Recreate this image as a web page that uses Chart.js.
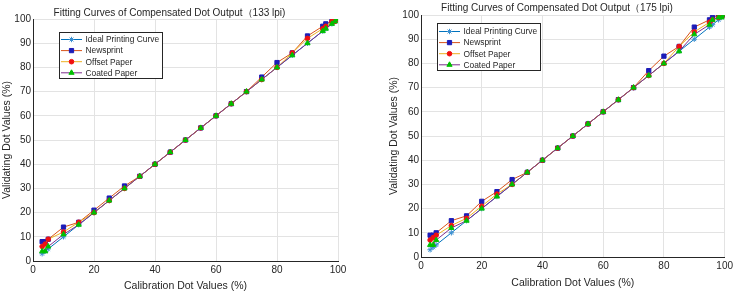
<!DOCTYPE html>
<html>
<head>
<meta charset="utf-8">
<script src="https://cdn.jsdelivr.net/npm/chart.js"></script>
<style>
  body { margin: 0; background: #fff; }
  .box { position: absolute; top: 0; width: 368px; height: 295px; }
</style>
</head>
<body>
<div class="box" style="left:0"><canvas id="c133" width="368" height="295"></canvas></div>
<div class="box" style="left:368px"><canvas id="c175" width="368" height="295"></canvas></div>
<script>
// calibration dot values (x) shared by every curve
const calib = [3, 4, 5, 10, 15, 20, 25, 30, 35, 40, 45, 50, 55, 60, 65, 70, 75, 80, 85, 90, 95, 96, 98, 99, 100];
const seriesNames = ['Ideal Printing Curve', 'Newsprint', 'Offset Paper', 'Coated Paper'];

// 133 lpi
const ideal133  = [3, 4, 5, 10, 15, 20, 25, 30, 35, 40, 45, 50, 55, 60, 65, 70, 75, 80, 85, 90, 95, 96, 98, 99, 100];
const news133   = [8, 8, 9, 14, 16, 21, 26, 31, 35, 40, 45, 50, 55, 60, 65, 70, 76, 82, 86, 93, 97, 98, 99, 100, 100];
const offset133 = [6, 7, 9, 12, 16, 20, 25, 30, 35, 40, 45, 50, 55, 60, 65, 70, 75, 80, 86, 92, 96, 97, 99, 99, 100];
const coated133 = [4, 4, 6, 11, 15, 20, 25, 30, 35, 40, 45, 50, 55, 60, 65, 70, 75, 80, 85, 90, 95, 96, 98, 99, 100];

// 175 lpi
const ideal175  = [3, 4, 5, 10, 15, 20, 25, 30, 35, 40, 45, 50, 55, 60, 65, 70, 75, 80, 85, 90, 95, 96, 98, 99, 100];
const news175   = [9, 9, 10, 15, 17, 23, 27, 32, 35, 40, 45, 50, 55, 60, 65, 70, 77, 83, 87, 95, 98, 99, 100, 100, 100];
const offset175 = [7, 8, 9, 13, 16, 21, 26, 30, 35, 40, 45, 50, 55, 60, 65, 70, 75, 80, 87, 93, 97, 98, 99, 100, 100];
const coated175 = [5, 5, 7, 12, 15, 20, 25, 30, 35, 40, 45, 50, 55, 60, 65, 70, 75, 80, 85, 92, 96, 98, 99, 99, 100];

const xTicks = [0, 20, 40, 60, 80, 100];
const yTicks = [0, 10, 20, 30, 40, 50, 60, 70, 80, 90, 100];

const FONT = 'Arial, "Liberation Sans", Helvetica, sans-serif';
const TEXT = '#262626';

const styles = [
  { line: '#0072BD', fill: '#3a8fd0', shape: 'star', r: 2.7 },
  { line: '#D95319', fill: '#1c1cb8', shape: 'rect', r: 3 },
  { line: '#EDB120', fill: '#f01010', shape: 'circle', r: 2.3 },
  { line: '#7E2F8E', fill: '#00c000', shape: 'triangle', r: 3 },
];

function makeDatasets(lists) {
  return lists.map((vals, i) => ({
    label: seriesNames[i],
    data: calib.map((x, k) => ({ x: x, y: vals[k] })),
    borderColor: styles[i].line,
    borderWidth: 1,
    pointStyle: styles[i].shape,
    pointRadius: styles[i].r,
    pointBackgroundColor: styles[i].fill,
    pointBorderColor: styles[i].fill,
    pointBorderWidth: 1,
    order: 3 - i,
    tension: 0,
  }));
}

// MATLAB-like boxed legend with line + marker samples
const boxLegend = {
  id: 'boxLegend',
  afterDatasetsDraw(chart, args, o) {
    const ctx = chart.ctx;
    ctx.save();
    ctx.fillStyle = '#fff';
    ctx.fillRect(o.x, o.y, o.w, o.h);
    ctx.strokeStyle = TEXT;
    ctx.lineWidth = 1;
    ctx.strokeRect(o.x + 0.5, o.y + 0.5, o.w, o.h);
    chart.data.datasets.forEach((ds, i) => {
      const y = o.y + o.first + i * o.gap;
      ctx.strokeStyle = ds.borderColor;
      ctx.lineWidth = 1;
      ctx.beginPath();
      ctx.moveTo(o.x + 2, y);
      ctx.lineTo(o.x + 23, y);
      ctx.stroke();
      ctx.fillStyle = ds.pointBackgroundColor;
      ctx.strokeStyle = ds.pointBorderColor;
      Chart.helpers.drawPoint(ctx, { pointStyle: ds.pointStyle, radius: ds.pointRadius, borderWidth: 1, rotation: 0 }, o.x + 12.5, y);
      ctx.fillStyle = TEXT;
      ctx.font = '8.4px ' + FONT;
      ctx.textBaseline = 'middle';
      ctx.fillText(ds.label, o.x + 26.5, y + 0.5);
    });
    ctx.restore();
  }
};

function makeChart(id, title, lists, lay) {
  new Chart(document.getElementById(id), {
    type: 'line',
    data: { datasets: makeDatasets(lists) },
    plugins: [boxLegend],
    options: {
      responsive: false,
      animation: false,
      layout: { padding: lay.pad },
      plugins: {
        legend: { display: false },
        tooltip: { enabled: false },
        title: {
          display: true,
          text: title,
          color: TEXT,
          font: { family: FONT, size: 10, weight: 'normal' },
          padding: lay.titlePad,
        },
        boxLegend: lay.legend,
      },
      scales: {
        x: {
          type: 'linear',
          min: 0, max: 100,
          afterBuildTicks: (s) => { s.ticks = xTicks.map(v => ({ value: v })); },
          afterFit: (s) => { s.height = lay.xh; },
          ticks: { color: TEXT, padding: 3, font: { family: FONT, size: 10 } },
          grid: { color: '#e3e3e3', drawTicks: false },
          border: { color: TEXT },
          title: { display: true, text: 'Calibration Dot Values (%)', color: TEXT, font: { family: FONT, size: 10.5 }, padding: lay.xTitlePad },
        },
        y: {
          min: 0, max: 100,
          afterBuildTicks: (s) => { s.ticks = yTicks.map(v => ({ value: v })); },
          afterFit: (s) => { s.width = lay.yw; },
          ticks: { color: TEXT, padding: 2, font: { family: FONT, size: 10 } },
          grid: { color: '#e3e3e3', drawTicks: false },
          border: { color: TEXT },
          title: { display: true, text: 'Validating Dot Values (%)', color: TEXT, font: { family: FONT, size: 10.5 }, padding: { top: 0, bottom: 2 } },
        },
      },
    },
  });
}

makeChart('c133', 'Fitting Curves of Compensated Dot Output（133 lpi)',
  [ideal133, news133, offset133, coated133],
  {
    pad: { left: 1, right: 30, top: 0, bottom: 0 },
    titlePad: { top: 7, bottom: 0 },
    xh: 34, yw: 32, xTitlePad: { top: 0, bottom: 3 },
    legend: { x: 59, y: 32, w: 103, h: 46, first: 7.5, gap: 11.1 },
  });

makeChart('c175', 'Fitting Curves of Compensated Dot Output（175 lpi)',
  [ideal175, news175, offset175, coated175],
  {
    pad: { left: 20, right: 10, top: 0, bottom: 0 },
    titlePad: { top: 2, bottom: 1 },
    xh: 38, yw: 33, xTitlePad: { top: 0, bottom: 6 },
    legend: { x: 69, y: 23, w: 103, h: 47, first: 8.5, gap: 11.1 },
  });
</script>
</body>
</html>
